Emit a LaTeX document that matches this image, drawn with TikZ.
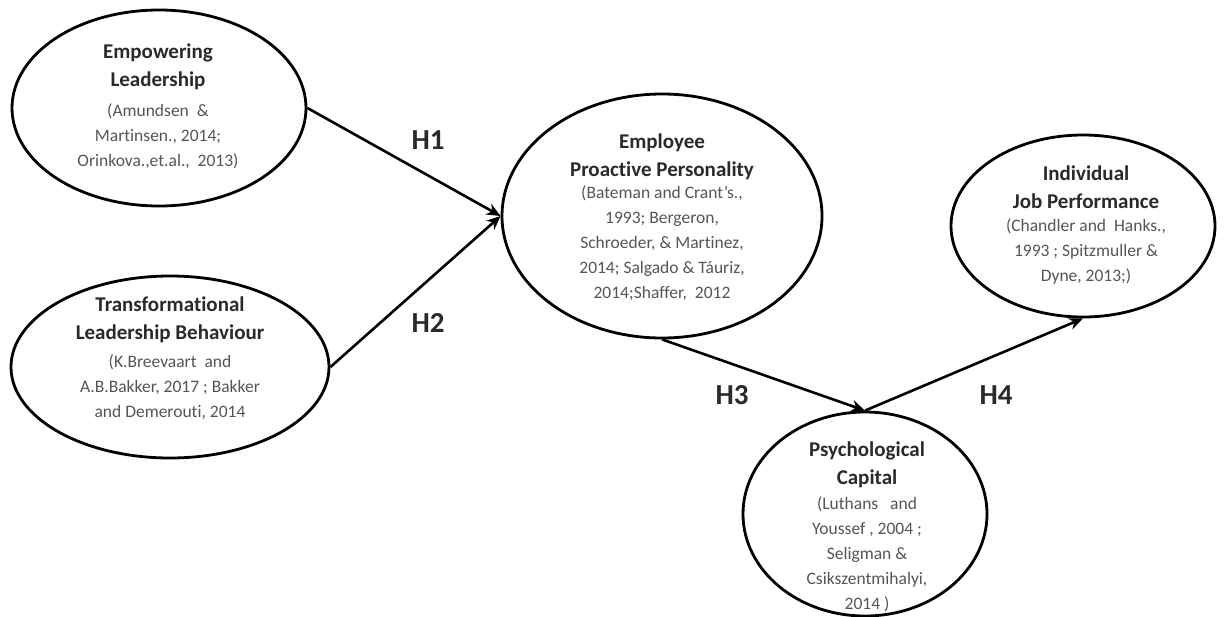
\documentclass[tikz,border=0pt]{standalone}
\usepackage{fontspec}
\setmainfont{Carlito}[Ligatures=NoCommon]
\usetikzlibrary{shapes.geometric,arrows.meta}
\definecolor{titlec}{HTML}{2A2A2A}
\definecolor{citec}{HTML}{555555}
\begin{document}
\begin{tikzpicture}[x=1pt,y=-1pt,
  ell/.style={draw=black, ellipse, line width=2.8pt, inner sep=0pt},
  ttl/.style={align=center, text=titlec, font=\fontsize{21}{28.5}\selectfont\bfseries, inner sep=0pt},
  cite/.style={align=center, text=citec, font=\fontsize{17.5}{25}\selectfont, inner sep=0pt},
  hyp/.style={text=titlec, font=\fontsize{29}{32}\selectfont\bfseries, inner sep=0pt},
  arr/.style={line width=2.6pt, -{Stealth[length=14pt,width=12pt]}}
]
\useasboundingbox[fill=white] (0,0) rectangle (1225,616);

\node[ell, minimum width=294pt, minimum height=196pt] (e1) at (159,108) {};
\node[ell, minimum width=318pt, minimum height=182pt] (e2) at (170,367) {};
\node[ell, minimum width=320pt, minimum height=244pt] (e3) at (662,216) {};
\node[ell, minimum width=264pt, minimum height=182pt] (e4) at (1083,226) {};
\node[ell, minimum width=244pt, minimum height=204pt] (e5) at (865,514) {};

\node[ttl] (t1) at (158,67) {Empowering\\Leadership};
\node[cite] (c1) at (158,136) {(Amundsen\ \ \&\\Martinsen., 2014;\\Orinkova.,et.al.,\ \ 2013)};

\node[ttl] (t2) at (170,320) {Transformational\\Leadership Behaviour};
\node[cite] (c2) at (170,387) {(K.Breevaart\ \ and\\A.B.Bakker, 2017 ; Bakker\\and Demerouti, 2014};

\node[ttl] (t3) at (662,157) {Employee\\Proactive Personality};
\node[cite] (c3) at (662,243) {(Bateman and Crant's.,\\1993; Bergeron,\\Schroeder, \& Martinez,\\2014; Salgado \& Táuriz,\\2014;Shaffer,\ \ 2012};

\node[ttl] (t4) at (1086,187) {Individual\\Job Performance};
\node[cite] (c4) at (1086,252) {(Chandler and\ \ Hanks.,\\1993 ; Spitzmuller \&\\Dyne, 2013;)};

\node[ttl] (t5) at (867,465) {Psychological\\Capital};
\node[cite] (c5) at (867,554) {(Luthans\ \ \ and\\Youssef , 2004 ;\\Seligman \&\\Csikszentmihalyi,\\2014 )};

\draw[arr] (e1.east) -- (e3.west);
\draw[arr] (e2.east) -- (e3.west);
\draw[arr] (e3.south) -- (e5.north);
\draw[arr] (e5.north) -- (e4.south);

\node[hyp] (h1) at (428,140) {H1};
\node[hyp] (h2) at (428,323) {H2};
\node[hyp] (h3) at (732,395) {H3};
\node[hyp] (h4) at (996,395) {H4};
\end{tikzpicture}
\end{document}
